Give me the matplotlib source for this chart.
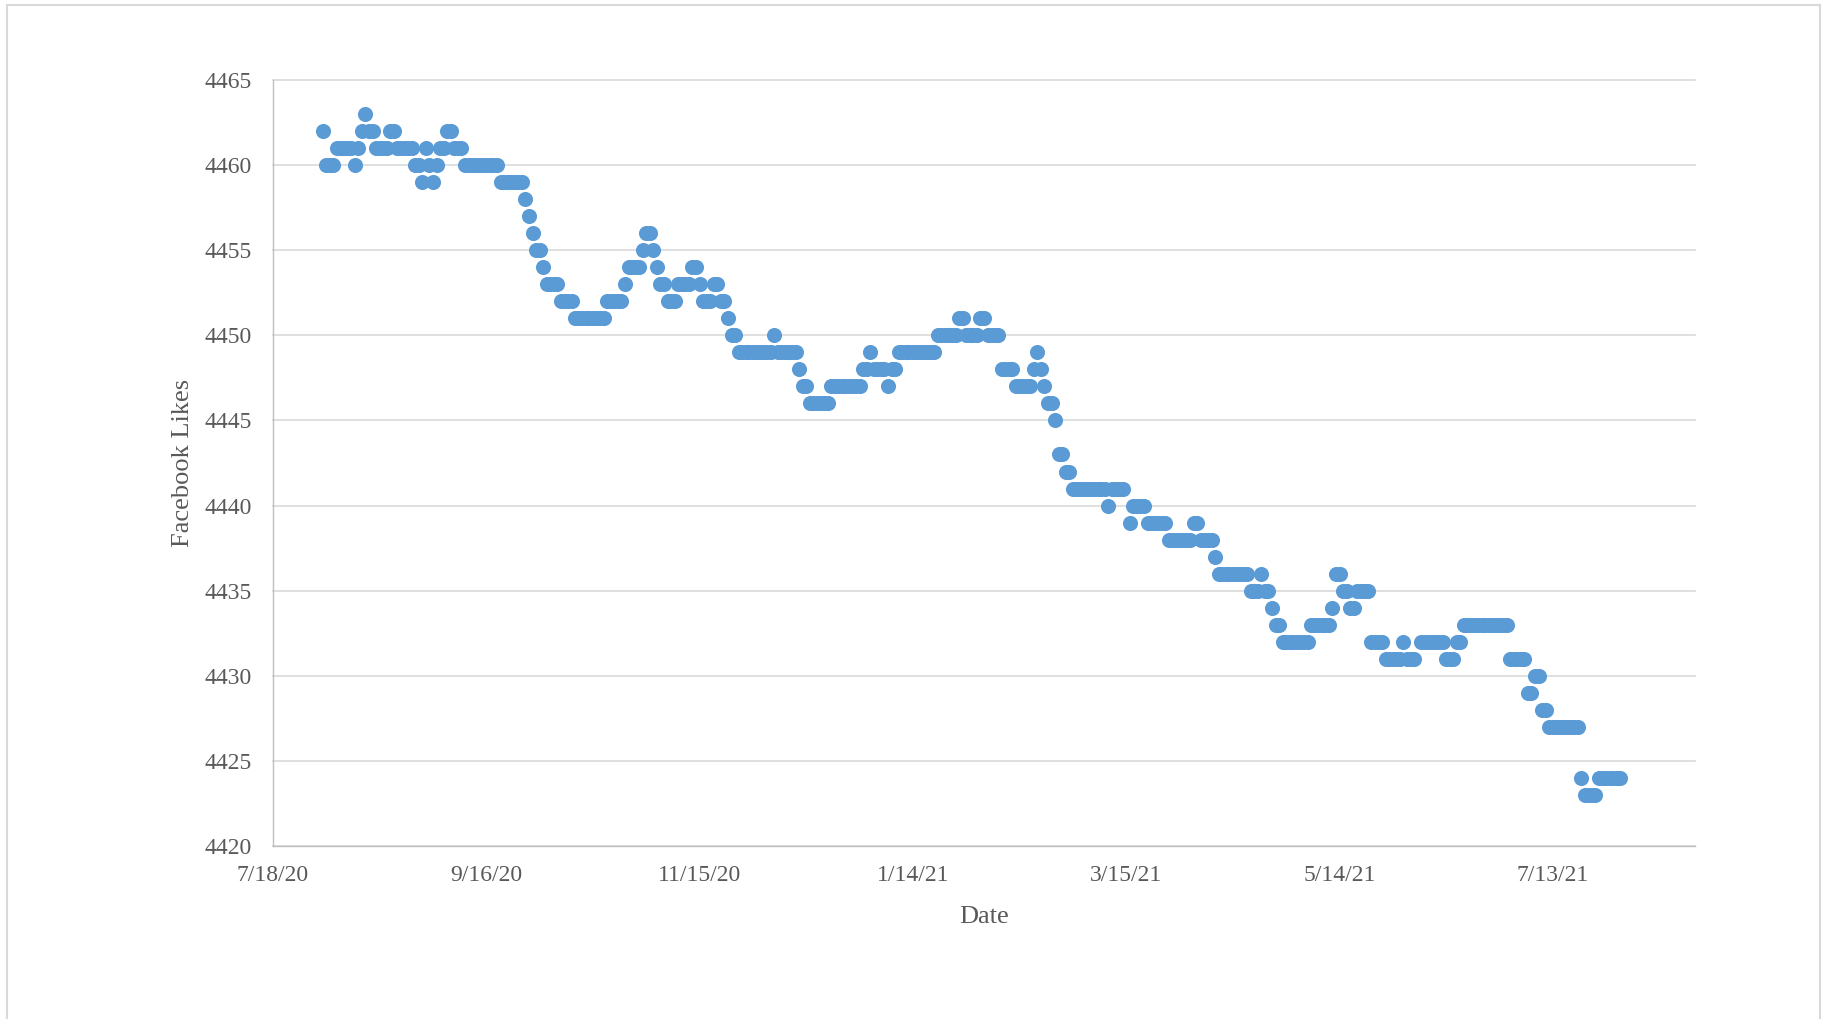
import numpy as np
import matplotlib
matplotlib.use("Agg")
import matplotlib.pyplot as plt
import matplotlib.dates as mdates
from matplotlib.patches import Rectangle
from matplotlib.ticker import FuncFormatter

# date axis starts here; run starts below are day offsets from it
AXIS_START = np.datetime64("2020-07-18")

# daily like counts, stored as runs of identical values
RUN_START = [
    14, 15, 18, 23, 24, 25, 26, 27, 29, 33, 35, 40, 42, 43, 44, 45, 46, 47, 49, 51,
    54, 64, 71, 72, 73, 74, 76, 77, 81, 85, 94, 99, 100, 104, 105, 107, 108, 109, 111, 114,
    118, 120, 121, 124, 126, 128, 129, 131, 141, 142, 148, 149, 151, 157, 166, 168, 169, 173, 174, 176,
    187, 193, 195, 199, 201, 205, 209, 214, 215, 216, 217, 218, 220, 221, 223, 225, 235, 236, 241, 242,
    246, 252, 259, 261, 265, 266, 275, 278, 279, 281, 282, 284, 292, 298, 299, 301, 303, 305, 309, 313,
    318, 319, 323, 330, 333, 335, 348, 353, 355, 357, 359, 368, 369, 373,
]
RUN_DAYS = [
    1, 3, 5, 1, 1, 1, 1, 2, 4, 2, 5, 2, 1, 1, 1, 1, 1, 2, 2, 3,
    10, 7, 1, 1, 1, 2, 1, 4, 4, 9, 5, 1, 4, 1, 2, 1, 1, 2, 3, 4,
    2, 1, 3, 2, 2, 1, 2, 10, 1, 6, 1, 2, 6, 9, 2, 1, 4, 1, 2, 11,
    6, 2, 4, 2, 4, 4, 5, 1, 1, 1, 1, 2, 1, 2, 2, 10, 1, 4, 1, 4,
    6, 7, 2, 4, 1, 9, 3, 1, 2, 1, 2, 8, 6, 1, 2, 2, 2, 4, 4, 5,
    1, 3, 7, 3, 2, 13, 5, 2, 2, 2, 9, 1, 4, 7,
]
RUN_LIKES = [
    4462, 4460, 4461, 4460, 4461, 4462, 4463, 4462, 4461, 4462, 4461, 4460, 4459, 4461, 4460, 4459, 4460, 4461, 4462, 4461,
    4460, 4459, 4458, 4457, 4456, 4455, 4454, 4453, 4452, 4451, 4452, 4453, 4454, 4455, 4456, 4455, 4454, 4453, 4452, 4453,
    4454, 4453, 4452, 4453, 4452, 4451, 4450, 4449, 4450, 4449, 4448, 4447, 4446, 4447, 4448, 4449, 4448, 4447, 4448, 4449,
    4450, 4451, 4450, 4451, 4450, 4448, 4447, 4448, 4449, 4448, 4447, 4446, 4445, 4443, 4442, 4441, 4440, 4441, 4439, 4440,
    4439, 4438, 4439, 4438, 4437, 4436, 4435, 4436, 4435, 4434, 4433, 4432, 4433, 4434, 4436, 4435, 4434, 4435, 4432, 4431,
    4432, 4431, 4432, 4431, 4432, 4433, 4431, 4429, 4430, 4428, 4427, 4424, 4423, 4424,
]

Y_TICKS = [4420, 4425, 4430, 4435, 4440, 4445, 4450, 4455, 4460, 4465]
X_TICK_DAYS = [0, 60, 120, 180, 240, 300, 360]
X_SPAN_DAYS = 400

TEXT_GREY = "#595959"
DOT_BLUE = "#5B9BD5"

plt.rcParams["font.family"] = ["Liberation Serif", "DejaVu Serif"]

offsets = np.concatenate([s + np.arange(n) for s, n in zip(RUN_START, RUN_DAYS)])
likes = np.repeat(RUN_LIKES, RUN_DAYS)
dates = AXIS_START + offsets.astype("timedelta64[D]")

fig = plt.figure(figsize=(18.25, 10.19), dpi=100)
ax = fig.add_axes([273 / 1825, 1 - 846 / 1019, 1422 / 1825, 766 / 1019])

ax.scatter(dates, likes, s=118, color=DOT_BLUE, linewidths=0, zorder=3)

ax.set_ylim(Y_TICKS[0], Y_TICKS[-1])
ax.set_yticks(Y_TICKS)
ax.set_xlim(AXIS_START, AXIS_START + np.timedelta64(X_SPAN_DAYS, "D"))
ax.set_xticks(AXIS_START + np.array(X_TICK_DAYS).astype("timedelta64[D]"))


def short_date(x, pos):
    d = mdates.num2date(x)
    return f"{d.month}/{d.day}/{d.year % 100:02d}"


ax.xaxis.set_major_formatter(FuncFormatter(short_date))

ax.yaxis.grid(True, color="#d9d9d9", lw=1.2, clip_on=False)
ax.set_axisbelow(True)
for side in ("top", "right"):
    ax.spines[side].set_visible(False)
for side in ("left", "bottom"):
    ax.spines[side].set_color("#bfbfbf")
    ax.spines[side].set_linewidth(1.0)

ax.tick_params(axis="both", length=0, labelsize=17, labelcolor=TEXT_GREY)
ax.tick_params(axis="y", pad=15)
ax.tick_params(axis="x", pad=14)

ax.set_ylabel("Facebook Likes", fontsize=19, color=TEXT_GREY, labelpad=8)
ax.set_xlabel("Date", fontsize=19, color=TEXT_GREY, labelpad=14)

# thin chart-area border around the whole figure
fig.patches.append(Rectangle((7 / 1825, -0.02), 1813 / 1825, 1 - 5 / 1019 + 0.02,
                             transform=fig.transFigure, fill=False,
                             ec="#d9d9d9", lw=1.5))

fig.savefig("out.png", dpi=100)
